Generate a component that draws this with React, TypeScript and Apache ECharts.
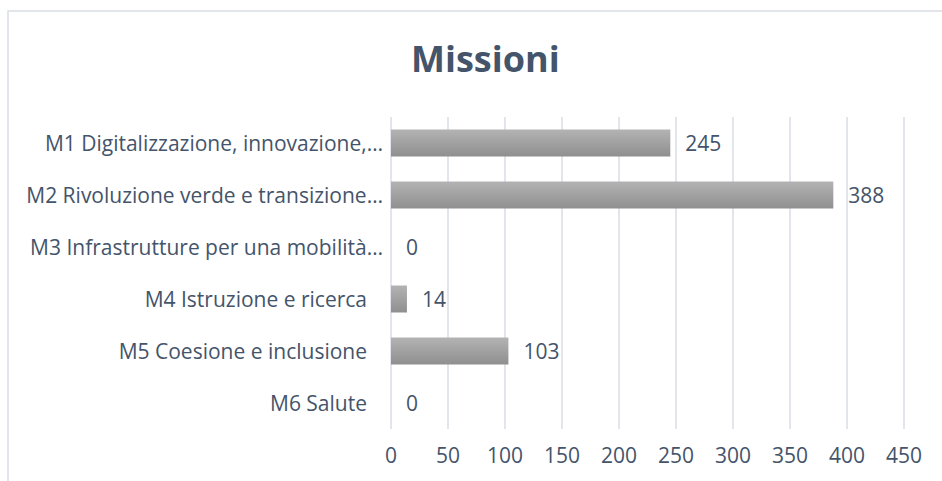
import React, { useEffect, useRef } from "react";
import * as echarts from "echarts";

const categories = [
  "M1 Digitalizzazione, innovazione,…",
  "M2 Rivoluzione verde e transizione…",
  "M3 Infrastrutture per una mobilità…",
  "M4 Istruzione e ricerca",
  "M5 Coesione e inclusione",
  "M6 Salute",
];
const values = [245, 388, 0, 14, 103, 0];
const xTicks = { min: 0, max: 450, interval: 50 };
const title = "Missioni";

const TEXT = "#44546a";
const FONT = "'Open Sans', sans-serif";

export default function App() {
  const ref = useRef<HTMLDivElement>(null);
  useEffect(() => {
    if (!ref.current) return;
    const chart = echarts.init(ref.current, null, { renderer: "svg" });
    chart.setOption({
      animation: false,
      backgroundColor: "#ffffff",
      textStyle: { fontFamily: FONT },
      title: {
        text: title,
        left: 406,
        top: 35,
        textStyle: { color: TEXT, fontSize: 36, fontWeight: "bold", fontFamily: FONT },
      },
      graphic: [
        {
          type: "rect",
          shape: { x: 8, y: 11, width: 960, height: 500 },
          style: { fill: "none", stroke: "#d9dde4", lineWidth: 1.5 },
          silent: true,
        },
      ],
      grid: { left: 391, right: 38, top: 117, bottom: 52 },
      xAxis: {
        type: "value",
        min: xTicks.min,
        max: xTicks.max,
        interval: xTicks.interval,
        axisLine: { show: false },
        axisTick: { show: false },
        axisLabel: { color: TEXT, fontSize: 21, margin: 15, fontFamily: FONT },
        splitLine: { show: true, lineStyle: { color: "#d9dde4", width: 1.5 } },
      },
      yAxis: {
        type: "category",
        data: categories,
        inverse: true,
        axisLine: { show: false },
        axisTick: { show: false },
        axisLabel: {
          color: TEXT,
          fontSize: 21,
          margin: 8,
          fontFamily: FONT,
          formatter: (v: string) => (v.endsWith("…") ? v : `${v}{sp|}`),
          rich: { sp: { width: 16 } },
        },
        splitLine: { show: false },
      },
      series: [
        {
          type: "bar",
          data: values,
          barWidth: 27,
          itemStyle: {
            color: new echarts.graphic.LinearGradient(0, 0, 0, 1, [
              { offset: 0, color: "#b3b3b3" },
              { offset: 1, color: "#8f8f8f" },
            ]),
          },
          label: {
            show: true,
            position: "right",
            distance: 15,
            color: TEXT,
            fontSize: 21,
            fontFamily: FONT,
          },
        },
      ],
    });
    return () => chart.dispose();
  }, []);
  return (
    <div
      ref={ref}
      style={{ position: "fixed", left: 0, top: 0, width: 942, height: 481 }}
    />
  );
}
